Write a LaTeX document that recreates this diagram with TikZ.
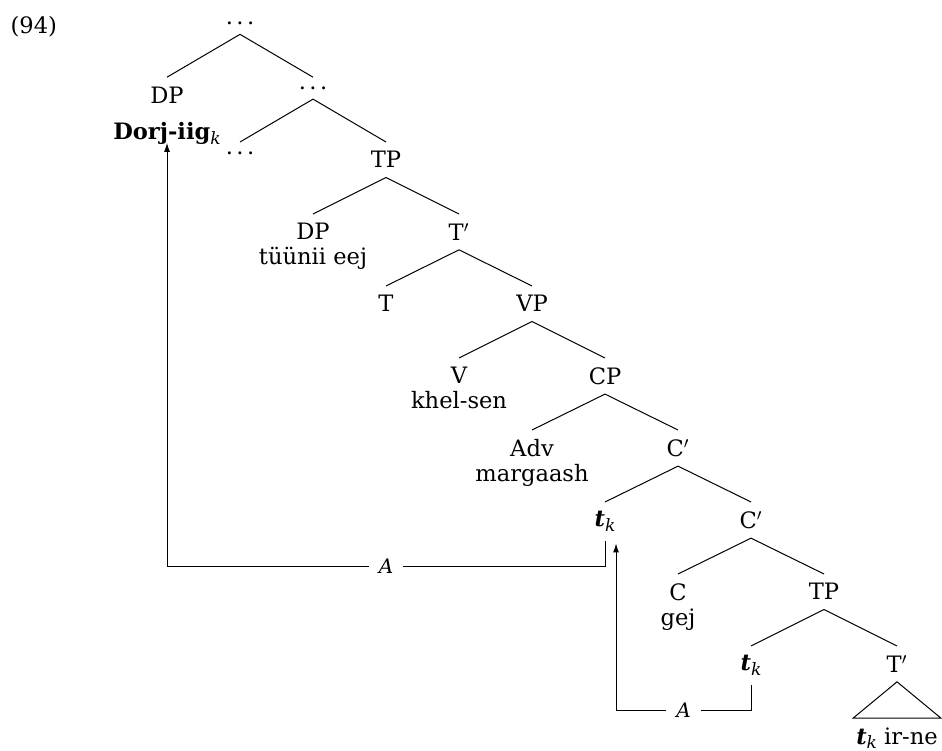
\documentclass[tikz,border=0pt]{standalone}
\usepackage{fontspec}
\setmainfont{DejaVu Serif}
\usetikzlibrary{arrows.meta}
\newcommand{\sbk}{\raisebox{-0.4ex}{\fontsize{8.5}{8.5}\selectfont\itshape k}}
\newcommand{\trc}{\textbf{\textit{t}}\sbk}
\newcommand{\dts}{.\kern.15em.\kern.15em.}

\begin{document}
\begin{tikzpicture}[x=36.5pt,y=-36pt,line width=0.5pt,
    font=\fontsize{11.3}{12.5}\selectfont,
    cat/.style={anchor=north,align=center,inner sep=0pt,outer xsep=0pt,outer ysep=4.75pt},
    mv/.style={-{Latex[length=4.5pt,width=3pt]}},
    lbl/.style={fill=white,inner xsep=5pt,inner ysep=1pt,font=\itshape}]
    \useasboundingbox (-3.288,0.028) rectangle (9.616,10.458);
            \node[anchor=base west,inner sep=0pt] (exnum) at (-3.15,0.49) {(94)};
            % the tree, one level per row
            \node[cat] (root) at (0,0.2) {\dts};
            \node[cat] (dp1) at (-1,1.1) {DP\\[5.6pt]\textbf{Dorj-iig}\sbk};
            \node[cat] (d1) at (1,1.1) {\dts};
            \node[cat] (d2) at (0,2) {\dts};
            \node[cat] (tp1) at (2,2) {TP};
            \node[cat] (dp2) at (1,3) {DP\\tüünii eej};
            \node[cat] (tb1) at (3,3) {T$'$};
            \node[cat] (t) at (2,4) {T};
            \node[cat] (vp) at (4,4) {VP};
            \node[cat] (v) at (3,5) {V\\khel-sen};
            \node[cat] (cp) at (5,5) {CP};
            \node[cat] (adv) at (4,6) {Adv\\margaash};
            \node[cat] (cb1) at (6,6) {C$'$};
            \node[cat] (tk1) at (5,7) {\trc};
            \node[cat] (cb2) at (7,7) {C$'$};
            \node[cat] (c) at (6,8) {C\\gej};
            \node[cat] (tp2) at (8,8) {TP};
            \node[cat] (tk2) at (7,9) {\trc};
            \node[cat] (tb2) at (9,9) {T$'$};
            \node[cat,inner xsep=1.5pt] (roof) at (9,10) {\trc{} ir-ne};
            \foreach \a/\b in {root/dp1,root/d1,d1/d2,d1/tp1,tp1/dp2,tp1/tb1,tb1/t,tb1/vp,
                vp/v,vp/cp,cp/adv,cp/cb1,cb1/tk1,cb1/cb2,cb2/c,cb2/tp2,tp2/tk2,tp2/tb2}
                \draw (\a.south) -- (\b.north);
            \draw (tb2.south) -- (roof.north west) -- (roof.north east) -- cycle;
            % movement arrows
            \draw[mv] (tk1.south) -- ++(0,0.35) -| node[lbl,pos=0.25] (a1) {A} ([yshift=5.5pt]dp1.south);
            \draw[mv] (tk2.south) -- ++(0,0.35) -| node[lbl,pos=0.25] (a2) {A} ([xshift=5.5pt,yshift=-1.2pt]tk1.south);
        \end{tikzpicture}
\end{document}
